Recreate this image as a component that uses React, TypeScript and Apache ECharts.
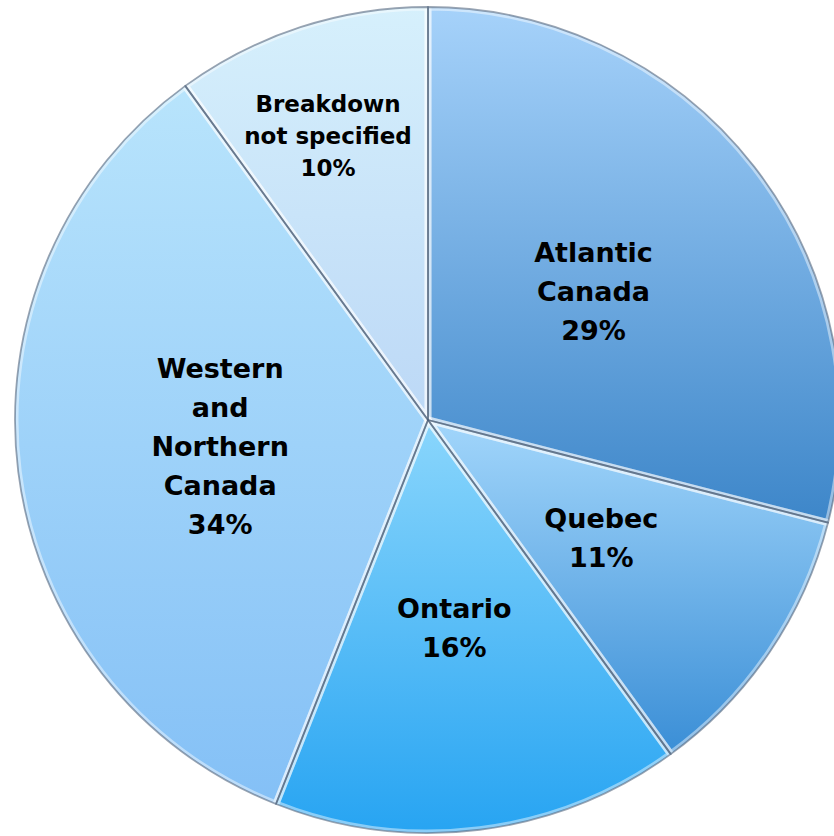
import React, { useEffect, useRef } from "react";
import * as echarts from "echarts";

const categories = ["Atlantic\nCanada", "Quebec", "Ontario", "Western\nand\nNorthern\nCanada", "Breakdown\nnot specified"];
const values = [29, 11, 16, 34, 10];
const topColors = ["#a6d2fa", "#a2d6fb", "#8ad6fc", "#b8e4fc", "#d6f0fc"];
const bottomColors = ["#3d86c9", "#3a8ed6", "#27a4f2", "#84c0f6", "#bcd8f6"];

export default function App() {
  const ref = useRef<HTMLDivElement>(null);
  useEffect(() => {
    if (!ref.current) return;
    const chart = echarts.init(ref.current, null, { renderer: "svg" });
    const data = categories.map((name, i) => ({
      name,
      value: values[i],
      itemStyle: {
        color: new echarts.graphic.LinearGradient(0, 0, 0, 1, [
          { offset: 0, color: topColors[i] },
          { offset: 1, color: bottomColors[i] },
        ]),
      },
      label: i === 4 ? { fontSize: 23, lineHeight: 32 } : {},
    }));
    const plain = categories.map((name, i) => ({ name, value: values[i] }));
    const common = {
      type: "pie",
      center: [428, 420],
      radius: [0, 413],
      startAngle: 90,
      clockwise: true,
      silent: true,
      emphasis: { disabled: true },
      labelLine: { show: false },
    };
    chart.setOption({
      animation: false,
      backgroundColor: "#ffffff",
      series: [
        {
          ...common,
          data,
          itemStyle: { borderWidth: 0 },
          label: { show: false },
        },
        {
          ...common,
          data: plain,
          itemStyle: {
            color: "rgba(0,0,0,0)",
            borderColor: "rgba(255,255,255,0.45)",
            borderWidth: 7,
          },
          label: { show: false },
        },
        {
          ...common,
          data: data.map((d) => ({ ...d, itemStyle: { color: "rgba(0,0,0,0)" } })),
          itemStyle: {
            color: "rgba(0,0,0,0)",
            borderColor: "rgba(70,90,115,0.55)",
            borderWidth: 1.8,
          },
          label: {
            show: true,
            position: "inside",
            formatter: (p: any) => `${p.name}\n${p.value}%`,
            color: "#000000",
            fontFamily: "DejaVu Sans",
            fontWeight: "bold",
            fontSize: 27,
            lineHeight: 39,
            align: "center",
          },
          labelLayout: (p: any) => (p.dataIndex === 4 ? { x: 328, y: 136 } : {}),
        },
      ],
    });
    return () => chart.dispose();
  }, []);
  return (
    <div
      ref={ref}
      style={{ position: "fixed", left: 0, top: 0, width: 834, height: 836 }}
    />
  );
}
